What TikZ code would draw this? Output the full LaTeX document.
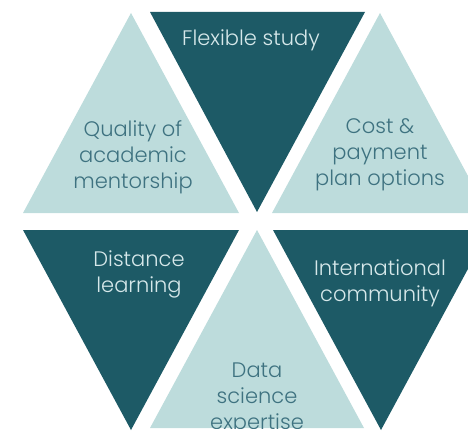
\documentclass[tikz,border=0pt]{standalone}
\usepackage{fontspec}
\setmainfont{Poppins}[UprightFont={* Light}]
\definecolor{lightT}{HTML}{BDDCDC}
\definecolor{darkT}{HTML}{1D5A66}
\definecolor{lightTxt}{HTML}{3E7280}
\definecolor{darkTxt}{HTML}{D6E8EA}
\begin{document}
\begin{tikzpicture}[x=1pt,y=-1pt,
  lighttri/.style={fill=lightT,draw=none},
  darktri/.style={fill=darkT,draw=none},
  lbl/.style={align=center,inner sep=0pt,font=\fontsize{21}{26}\selectfont},
  onlight/.style={lbl,text=lightTxt},
  ondark/.style={lbl,text=darkTxt}]
\useasboundingbox (0,0) rectangle (468,433);
\clip (0,0) rectangle (468,433);
% top row
\fill[lighttri] (131,13) -- (239,213) -- (23,213) -- cycle;
\fill[darktri] (150,12) -- (365,12) -- (257,212) -- cycle;
\fill[lighttri] (380,13) -- (488,213) -- (272,213) -- cycle;
% bottom row
\fill[darktri] (23,230) -- (239,230) -- (131,430) -- cycle;
\fill[lighttri] (257,230) -- (364,428) -- (150,428) -- cycle;
\fill[darktri] (273,230) -- (489,230) -- (381,430) -- cycle;
% labels
\node[ondark] (flex) at (251,40.5) {Flexible study};
\node[onlight] (qual) at (133,157) {Quality of\\academic\\mentorship};
\node[onlight] (cost) at (380,154.5) {Cost \&\\payment\\plan options};
\node[ondark] (dist) at (139,274) {Distance\\learning};
\node[ondark] (intl) at (380,283.5) {International\\community};
\begin{scope}
  \clip (257,230) -- (364,428) -- (150,428) -- cycle;
  \node[onlight] (data) at (257,399) {Data\\science\\expertise};
\end{scope}
\end{tikzpicture}
\end{document}
